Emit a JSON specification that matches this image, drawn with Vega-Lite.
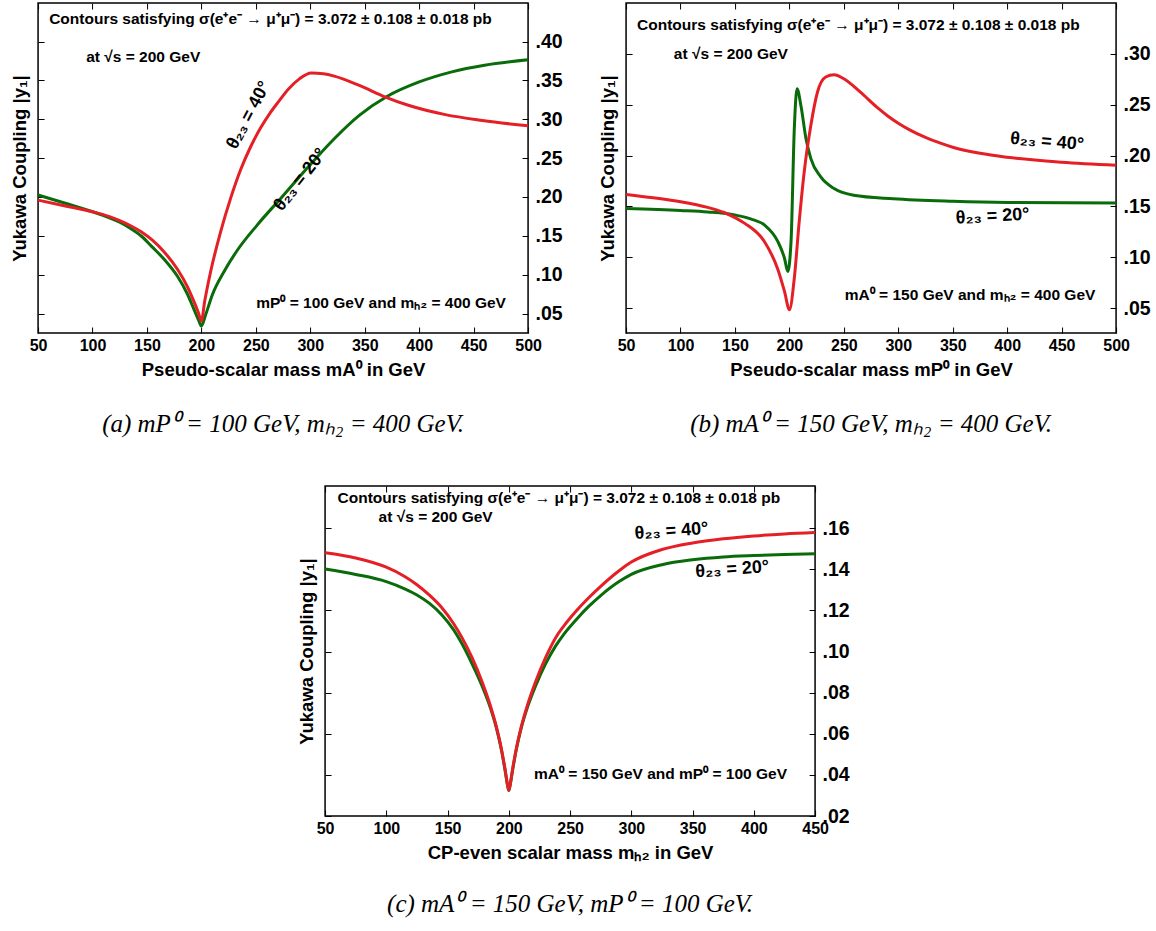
{
  "$schema": "https://vega.github.io/schema/vega-lite/v6.json",
  "background": "white",
  "padding": {"left": 9, "top": 1, "right": 0, "bottom": 0},
  "config": {
    "view": {"stroke": "black", "strokeWidth": 1.5},
    "axis": {"domain": false, "grid": false, "tickColor": "black", "tickSize": -6, "tickWidth": 1,
      "labelFont": "Liberation Sans", "labelFontWeight": "bold", "labelColor": "black",
      "titleFont": "Liberation Sans", "titleFontWeight": "bold", "titleColor": "black", "titleFontSize": 18.5,
      "labelFlush": false, "labelOverlap": false},
    "title": {"font": "Liberation Serif", "fontStyle": "italic", "fontWeight": "normal", "fontSize": 25, "color": "black"},
    "text": {"font": "Liberation Sans", "fontWeight": "bold", "color": "black"}
  },
  "datasets": {
    "curves": [
      {"p":"a","t":"20","x":50,"y":0.2026},{"p":"a","t":"20","x":75,"y":0.192},{"p":"a","t":"20","x":100,"y":0.181},{"p":"a","t":"20","x":115,"y":0.1735},{"p":"a","t":"20","x":125,"y":0.1675},{"p":"a","t":"20","x":135,"y":0.1595},{"p":"a","t":"20","x":145,"y":0.1495},{"p":"a","t":"20","x":155,"y":0.1355},{"p":"a","t":"20","x":166,"y":0.1195},{"p":"a","t":"20","x":178,"y":0.098},{"p":"a","t":"20","x":187,"y":0.0755},{"p":"a","t":"20","x":193,"y":0.056},{"p":"a","t":"20","x":197,"y":0.043},{"p":"a","t":"20","x":200,"y":0.034},{"p":"a","t":"20","x":204,"y":0.049},{"p":"a","t":"20","x":210,"y":0.074},{"p":"a","t":"20","x":221,"y":0.1045},{"p":"a","t":"20","x":233,"y":0.1315},{"p":"a","t":"20","x":251,"y":0.1635},{"p":"a","t":"20","x":273,"y":0.1985},{"p":"a","t":"20","x":297,"y":0.237},{"p":"a","t":"20","x":322,"y":0.275},{"p":"a","t":"20","x":345,"y":0.305},{"p":"a","t":"20","x":370,"y":0.329},{"p":"a","t":"20","x":400,"y":0.348},{"p":"a","t":"20","x":430,"y":0.361},{"p":"a","t":"20","x":460,"y":0.3695},{"p":"a","t":"20","x":500,"y":0.3765},
      {"p":"a","t":"40","x":50,"y":0.196},{"p":"a","t":"40","x":75,"y":0.1885},{"p":"a","t":"40","x":100,"y":0.181},{"p":"a","t":"40","x":115,"y":0.175},{"p":"a","t":"40","x":125,"y":0.1695},{"p":"a","t":"40","x":135,"y":0.163},{"p":"a","t":"40","x":145,"y":0.155},{"p":"a","t":"40","x":155,"y":0.1445},{"p":"a","t":"40","x":166,"y":0.129},{"p":"a","t":"40","x":178,"y":0.107},{"p":"a","t":"40","x":187,"y":0.085},{"p":"a","t":"40","x":193,"y":0.066},{"p":"a","t":"40","x":197,"y":0.052},{"p":"a","t":"40","x":200,"y":0.0405},{"p":"a","t":"40","x":203,"y":0.0658},{"p":"a","t":"40","x":208.5,"y":0.1042},{"p":"a","t":"40","x":217.7,"y":0.1555},{"p":"a","t":"40","x":226.8,"y":0.1982},{"p":"a","t":"40","x":236,"y":0.235},{"p":"a","t":"40","x":245,"y":0.264},{"p":"a","t":"40","x":254,"y":0.288},{"p":"a","t":"40","x":263,"y":0.308},{"p":"a","t":"40","x":271,"y":0.323},{"p":"a","t":"40","x":280,"y":0.339},{"p":"a","t":"40","x":290,"y":0.352},{"p":"a","t":"40","x":301,"y":0.3595},{"p":"a","t":"40","x":312,"y":0.3585},{"p":"a","t":"40","x":322,"y":0.3555},{"p":"a","t":"40","x":345,"y":0.3435},{"p":"a","t":"40","x":369,"y":0.3286},{"p":"a","t":"40","x":390,"y":0.318},{"p":"a","t":"40","x":424,"y":0.306},{"p":"a","t":"40","x":458,"y":0.2985},{"p":"a","t":"40","x":500,"y":0.2915},
      {"p":"b","t":"20","x":50,"y":0.148},{"p":"b","t":"20","x":100,"y":0.146},{"p":"b","t":"20","x":125,"y":0.1445},{"p":"b","t":"20","x":150,"y":0.1415},{"p":"b","t":"20","x":165,"y":0.1375},{"p":"b","t":"20","x":177,"y":0.1318},{"p":"b","t":"20","x":189.4,"y":0.1154},{"p":"b","t":"20","x":195.5,"y":0.099},{"p":"b","t":"20","x":198.5,"y":0.086},{"p":"b","t":"20","x":201.5,"y":0.1154},{"p":"b","t":"20","x":204.5,"y":0.2265},{"p":"b","t":"20","x":207,"y":0.2657},{"p":"b","t":"20","x":210.6,"y":0.249},{"p":"b","t":"20","x":215.2,"y":0.2167},{"p":"b","t":"20","x":219.7,"y":0.197},{"p":"b","t":"20","x":228.8,"y":0.179},{"p":"b","t":"20","x":241,"y":0.1676},{"p":"b","t":"20","x":259,"y":0.161},{"p":"b","t":"20","x":295.5,"y":0.1575},{"p":"b","t":"20","x":350,"y":0.155},{"p":"b","t":"20","x":400,"y":0.1538},{"p":"b","t":"20","x":500,"y":0.1533},
      {"p":"b","t":"40","x":50,"y":0.1618},{"p":"b","t":"40","x":75,"y":0.1585},{"p":"b","t":"40","x":100,"y":0.1546},{"p":"b","t":"40","x":125,"y":0.149},{"p":"b","t":"40","x":140,"y":0.144},{"p":"b","t":"40","x":150,"y":0.139},{"p":"b","t":"40","x":159,"y":0.1333},{"p":"b","t":"40","x":177,"y":0.1154},{"p":"b","t":"40","x":189,"y":0.0892},{"p":"b","t":"40","x":195.5,"y":0.0664},{"p":"b","t":"40","x":200,"y":0.0484},{"p":"b","t":"40","x":204.5,"y":0.0794},{"p":"b","t":"40","x":209,"y":0.135},{"p":"b","t":"40","x":213.6,"y":0.184},{"p":"b","t":"40","x":219.7,"y":0.2298},{"p":"b","t":"40","x":225.8,"y":0.2625},{"p":"b","t":"40","x":233.3,"y":0.2772},{"p":"b","t":"40","x":241,"y":0.2794},{"p":"b","t":"40","x":250,"y":0.2755},{"p":"b","t":"40","x":265,"y":0.2625},{"p":"b","t":"40","x":280,"y":0.2478},{"p":"b","t":"40","x":290,"y":0.2392},{"p":"b","t":"40","x":300,"y":0.2318},{"p":"b","t":"40","x":310,"y":0.2255},{"p":"b","t":"40","x":325,"y":0.2178},{"p":"b","t":"40","x":340,"y":0.2117},{"p":"b","t":"40","x":350,"y":0.2082},{"p":"b","t":"40","x":375,"y":0.2022},{"p":"b","t":"40","x":400,"y":0.1983},{"p":"b","t":"40","x":450,"y":0.1935},{"p":"b","t":"40","x":500,"y":0.1905},
      {"p":"c","t":"20","x":50,"y":0.1401},{"p":"c","t":"20","x":75,"y":0.1375},{"p":"c","t":"20","x":100,"y":0.134},{"p":"c","t":"20","x":115,"y":0.1305},{"p":"c","t":"20","x":125,"y":0.1275},{"p":"c","t":"20","x":135,"y":0.1235},{"p":"c","t":"20","x":145,"y":0.118},{"p":"c","t":"20","x":155,"y":0.1105},{"p":"c","t":"20","x":162,"y":0.1035},{"p":"c","t":"20","x":170,"y":0.094},{"p":"c","t":"20","x":178,"y":0.0835},{"p":"c","t":"20","x":185,"y":0.0725},{"p":"c","t":"20","x":190,"y":0.0625},{"p":"c","t":"20","x":194,"y":0.052},{"p":"c","t":"20","x":197,"y":0.042},{"p":"c","t":"20","x":199,"y":0.0348},{"p":"c","t":"20","x":200,"y":0.0324},{"p":"c","t":"20","x":201,"y":0.0348},{"p":"c","t":"20","x":203,"y":0.042},{"p":"c","t":"20","x":206,"y":0.052},{"p":"c","t":"20","x":210,"y":0.0625},{"p":"c","t":"20","x":215,"y":0.0725},{"p":"c","t":"20","x":222,"y":0.0835},{"p":"c","t":"20","x":230,"y":0.094},{"p":"c","t":"20","x":238,"y":0.1025},{"p":"c","t":"20","x":245,"y":0.1085},{"p":"c","t":"20","x":255,"y":0.1155},{"p":"c","t":"20","x":265,"y":0.1218},{"p":"c","t":"20","x":275,"y":0.1272},{"p":"c","t":"20","x":290,"y":0.134},{"p":"c","t":"20","x":300,"y":0.1375},{"p":"c","t":"20","x":325,"y":0.1422},{"p":"c","t":"20","x":350,"y":0.1446},{"p":"c","t":"20","x":375,"y":0.146},{"p":"c","t":"20","x":400,"y":0.1467},{"p":"c","t":"20","x":425,"y":0.1472},{"p":"c","t":"20","x":450,"y":0.1476},
      {"p":"c","t":"40","x":50,"y":0.148},{"p":"c","t":"40","x":75,"y":0.1455},{"p":"c","t":"40","x":100,"y":0.141},{"p":"c","t":"40","x":115,"y":0.1365},{"p":"c","t":"40","x":125,"y":0.1325},{"p":"c","t":"40","x":135,"y":0.1275},{"p":"c","t":"40","x":145,"y":0.1215},{"p":"c","t":"40","x":155,"y":0.1135},{"p":"c","t":"40","x":162,"y":0.1065},{"p":"c","t":"40","x":170,"y":0.097},{"p":"c","t":"40","x":178,"y":0.0855},{"p":"c","t":"40","x":185,"y":0.0735},{"p":"c","t":"40","x":190,"y":0.063},{"p":"c","t":"40","x":194,"y":0.0525},{"p":"c","t":"40","x":197,"y":0.0425},{"p":"c","t":"40","x":199,"y":0.035},{"p":"c","t":"40","x":200,"y":0.0325},{"p":"c","t":"40","x":201,"y":0.035},{"p":"c","t":"40","x":203,"y":0.0425},{"p":"c","t":"40","x":206,"y":0.0525},{"p":"c","t":"40","x":210,"y":0.063},{"p":"c","t":"40","x":215,"y":0.0735},{"p":"c","t":"40","x":222,"y":0.0855},{"p":"c","t":"40","x":230,"y":0.097},{"p":"c","t":"40","x":238,"y":0.1065},{"p":"c","t":"40","x":245,"y":0.1125},{"p":"c","t":"40","x":255,"y":0.1197},{"p":"c","t":"40","x":265,"y":0.126},{"p":"c","t":"40","x":275,"y":0.1317},{"p":"c","t":"40","x":290,"y":0.1393},{"p":"c","t":"40","x":300,"y":0.1435},{"p":"c","t":"40","x":325,"y":0.1496},{"p":"c","t":"40","x":350,"y":0.1528},{"p":"c","t":"40","x":375,"y":0.1548},{"p":"c","t":"40","x":400,"y":0.1562},{"p":"c","t":"40","x":425,"y":0.1572},{"p":"c","t":"40","x":450,"y":0.1579}
    ],
    "notes": [
      {"p":"a","k":"h","x":60.2,"y":0.429,"text":"Contours satisfying σ(e⁺e⁻ → μ⁺μ⁻) = 3.072 ± 0.108 ± 0.018 pb"},
      {"p":"a","k":"h","x":94.2,"y":0.38,"text":"at √s = 200 GeV"},
      {"p":"a","k":"h","x":250.4,"y":0.0637,"text":"mP⁰ = 100 GeV and mₕ₂ = 400 GeV"},
      {"p":"a","k":"r40","x":243.6,"y":0.305,"text":"θ₂₃ = 40°"},
      {"p":"a","k":"r20","x":291,"y":0.222,"text":"θ₂₃ = 20°"},
      {"p":"b","k":"h","x":60.1,"y":0.3284,"text":"Contours satisfying σ(e⁺e⁻ → μ⁺μ⁻) = 3.072 ± 0.108 ± 0.018 pb"},
      {"p":"b","k":"h","x":93.9,"y":0.3,"text":"at √s = 200 GeV"},
      {"p":"b","k":"h","x":250.9,"y":0.0631,"text":"mA⁰ = 150 GeV and mₕ₂ = 400 GeV"},
      {"p":"b","k":"r40","x":436.6,"y":0.2134,"text":"θ₂₃ = 40°"},
      {"p":"b","k":"r20","x":386.6,"y":0.14,"text":"θ₂₃ = 20°"},
      {"p":"c","k":"h","x":60.2,"y":0.1745,"text":"Contours satisfying σ(e⁺e⁻ → μ⁺μ⁻) = 3.072 ± 0.108 ± 0.018 pb"},
      {"p":"c","k":"h","x":93.7,"y":0.1652,"text":"at √s = 200 GeV"},
      {"p":"c","k":"h","x":220.6,"y":0.0405,"text":"mA⁰ = 150 GeV and mP⁰ = 100 GeV"},
      {"p":"c","k":"r40","x":332.8,"y":0.1584,"text":"θ₂₃ = 40°"},
      {"p":"c","k":"r20","x":382.4,"y":0.1398,"text":"θ₂₃ = 20°"}
    ]
  },
  "vconcat": [
    {
      "hconcat": [
        {
          "width": 490, "height": 330,
          "title": {"text": "(a)  mP⁰  =  100 GeV,   mₕ₂  =  400 GeV.", "orient": "bottom", "offset": 33},
          "layer": [
            {"data": {"name": "curves"}, "transform": [{"filter": "datum.p === 'a'"}],
             "mark": {"type": "line", "strokeWidth": 3, "interpolate": "monotone"},
             "encoding": {
               "x": {"field": "x", "type": "quantitative", "scale": {"domain": [50, 500], "nice": false, "zero": false},
                     "axis": {"orient": "bottom", "values": [50,100,150,200,250,300,350,400,450,500], "format": "d", "labelFontSize": 16, "labelPadding": 10, "titlePadding": 7, "title": "Pseudo-scalar mass mA⁰ in GeV"}},
               "y": {"field": "y", "type": "quantitative", "scale": {"domain": [0.025, 0.4496], "nice": false, "zero": false},
                     "axis": {"orient": "left", "values": [0.05,0.1,0.15,0.2,0.25,0.3,0.35,0.4], "labels": false, "titlePadding": 8, "title": "Yukawa Coupling |y₁|"}},
               "color": {"field": "t", "type": "nominal", "scale": {"domain": ["40", "20"], "range": ["#e41f26", "#0a6b0a"]}, "legend": null}
             }},
            {"data": {"name": "notes"}, "transform": [{"filter": "datum.p === 'a' && datum.k === 'h'"}],
             "mark": {"type": "text", "align": "left", "baseline": "middle", "fontSize": 15.5},
             "encoding": {
               "x": {"field": "x", "type": "quantitative", "axis": {"orient": "top", "values": [50,100,150,200,250,300,350,400,450,500], "labels": false, "title": null}},
               "y": {"field": "y", "type": "quantitative", "axis": {"orient": "right", "values": [0.05,0.1,0.15,0.2,0.25,0.3,0.35,0.4], "labelExpr": "substring(format(datum.value, '.2f'), 1)", "labelFontSize": 19.5, "labelPadding": 13, "title": null}},
               "text": {"field": "text"}
             }},
            {"data": {"name": "notes"}, "transform": [{"filter": "datum.p === 'a' && datum.k === 'r40'"}],
             "mark": {"type": "text", "align": "center", "baseline": "middle", "fontSize": 18, "angle": 298},
             "encoding": {"x": {"field": "x", "type": "quantitative", "axis": null}, "y": {"field": "y", "type": "quantitative", "axis": null}, "text": {"field": "text"}}},
            {"data": {"name": "notes"}, "transform": [{"filter": "datum.p === 'a' && datum.k === 'r20'"}],
             "mark": {"type": "text", "align": "center", "baseline": "middle", "fontSize": 18, "angle": 308},
             "encoding": {"x": {"field": "x", "type": "quantitative", "axis": null}, "y": {"field": "y", "type": "quantitative", "axis": null}, "text": {"field": "text"}}}
          ],
          "resolve": {"axis": {"x": "independent", "y": "independent"}}
        },
        {
          "width": 490, "height": 330,
          "title": {"text": "(b)  mA⁰  =  150 GeV,   mₕ₂  =  400 GeV.", "orient": "bottom", "offset": 33},
          "layer": [
            {"data": {"name": "curves"}, "transform": [{"filter": "datum.p === 'b'"}],
             "mark": {"type": "line", "strokeWidth": 3, "interpolate": "monotone"},
             "encoding": {
               "x": {"field": "x", "type": "quantitative", "scale": {"domain": [50, 500], "nice": false, "zero": false},
                     "axis": {"orient": "bottom", "values": [50,100,150,200,250,300,350,400,450,500], "format": "d", "labelFontSize": 16, "labelPadding": 10, "titlePadding": 7, "title": "Pseudo-scalar mass mP⁰ in GeV"}},
               "y": {"field": "y", "type": "quantitative", "scale": {"domain": [0.0255, 0.35], "nice": false, "zero": false},
                     "axis": {"orient": "left", "values": [0.05,0.1,0.15,0.2,0.25,0.3], "labels": false, "titlePadding": 8, "title": "Yukawa Coupling |y₁|"}},
               "color": {"field": "t", "type": "nominal", "scale": {"domain": ["40", "20"], "range": ["#e41f26", "#0a6b0a"]}, "legend": null}
             }},
            {"data": {"name": "notes"}, "transform": [{"filter": "datum.p === 'b' && datum.k === 'h'"}],
             "mark": {"type": "text", "align": "left", "baseline": "middle", "fontSize": 15.5},
             "encoding": {
               "x": {"field": "x", "type": "quantitative", "axis": {"orient": "top", "values": [50,100,150,200,250,300,350,400,450,500], "labels": false, "title": null}},
               "y": {"field": "y", "type": "quantitative", "axis": {"orient": "right", "values": [0.05,0.1,0.15,0.2,0.25,0.3], "labelExpr": "substring(format(datum.value, '.2f'), 1)", "labelFontSize": 19.5, "labelPadding": 13, "title": null}},
               "text": {"field": "text"}
             }},
            {"data": {"name": "notes"}, "transform": [{"filter": "datum.p === 'b' && datum.k === 'r40'"}],
             "mark": {"type": "text", "align": "center", "baseline": "middle", "fontSize": 18, "angle": 5},
             "encoding": {"x": {"field": "x", "type": "quantitative", "axis": null}, "y": {"field": "y", "type": "quantitative", "axis": null}, "text": {"field": "text"}}},
            {"data": {"name": "notes"}, "transform": [{"filter": "datum.p === 'b' && datum.k === 'r20'"}],
             "mark": {"type": "text", "align": "center", "baseline": "middle", "fontSize": 18, "angle": 357},
             "encoding": {"x": {"field": "x", "type": "quantitative", "axis": null}, "y": {"field": "y", "type": "quantitative", "axis": null}, "text": {"field": "text"}}}
          ],
          "resolve": {"axis": {"x": "independent", "y": "independent"}}
        }
      ],
      "spacing": 34
    },
    {
      "width": 490, "height": 330,
      "title": {"text": "(c)  mA⁰  =  150 GeV,   mP⁰  =  100 GeV.", "orient": "bottom", "offset": 30},
      "layer": [
        {"data": {"name": "curves"}, "transform": [{"filter": "datum.p === 'c'"}],
         "mark": {"type": "line", "strokeWidth": 3, "interpolate": "monotone"},
         "encoding": {
           "x": {"field": "x", "type": "quantitative", "scale": {"domain": [50, 450], "nice": false, "zero": false},
                 "axis": {"orient": "bottom", "values": [50,100,150,200,250,300,350,400,450], "format": "d", "labelFontSize": 16, "labelPadding": 10, "titlePadding": 7, "title": "CP-even scalar mass mₕ₂ in GeV"}},
           "y": {"field": "y", "type": "quantitative", "scale": {"domain": [0.02, 0.1805], "nice": false, "zero": false},
                 "axis": {"orient": "left", "values": [0.02,0.04,0.06,0.08,0.1,0.12,0.14,0.16], "labels": false, "titlePadding": 8, "title": "Yukawa Coupling |y₁|"}},
           "color": {"field": "t", "type": "nominal", "scale": {"domain": ["40", "20"], "range": ["#e41f26", "#0a6b0a"]}, "legend": null}
         }},
        {"data": {"name": "notes"}, "transform": [{"filter": "datum.p === 'c' && datum.k === 'h'"}],
         "mark": {"type": "text", "align": "left", "baseline": "middle", "fontSize": 15.5},
         "encoding": {
           "x": {"field": "x", "type": "quantitative", "axis": {"orient": "top", "values": [50,100,150,200,250,300,350,400,450], "labels": false, "title": null}},
           "y": {"field": "y", "type": "quantitative", "axis": {"orient": "right", "values": [0.02,0.04,0.06,0.08,0.1,0.12,0.14,0.16], "labelExpr": "substring(format(datum.value, '.2f'), 1)", "labelFontSize": 19.5, "labelPadding": 13, "title": "\u00a0", "titleFontSize": 1, "titlePadding": 13}},
           "text": {"field": "text"}
         }},
        {"data": {"name": "notes"}, "transform": [{"filter": "datum.p === 'c' && datum.k === 'r40'"}],
         "mark": {"type": "text", "align": "center", "baseline": "middle", "fontSize": 18, "angle": 356},
         "encoding": {"x": {"field": "x", "type": "quantitative", "axis": null}, "y": {"field": "y", "type": "quantitative", "axis": null}, "text": {"field": "text"}}},
        {"data": {"name": "notes"}, "transform": [{"filter": "datum.p === 'c' && datum.k === 'r20'"}],
         "mark": {"type": "text", "align": "center", "baseline": "middle", "fontSize": 18, "angle": 356},
         "encoding": {"x": {"field": "x", "type": "quantitative", "axis": null}, "y": {"field": "y", "type": "quantitative", "axis": null}, "text": {"field": "text"}}}
      ],
      "resolve": {"axis": {"x": "independent", "y": "independent"}}
    }
  ],
  "spacing": 46,
  "center": true
}
